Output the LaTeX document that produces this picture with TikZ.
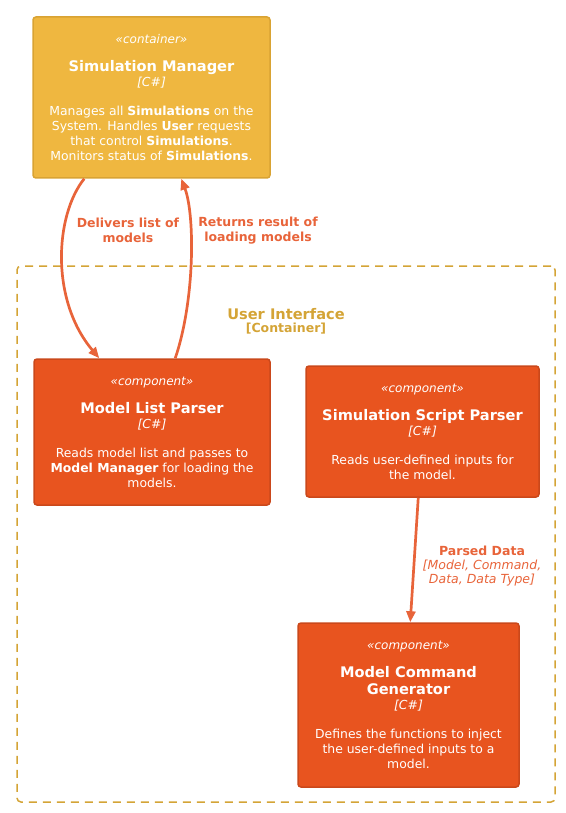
\documentclass[tikz,border=0pt]{standalone}
\usepackage{fontspec}
\setmainfont{DejaVu Sans}
\usetikzlibrary{positioning, arrows.meta, calc}

\definecolor{cntfill}{HTML}{EFB740}
\definecolor{cntline}{HTML}{D9A333}
\definecolor{cmpfill}{HTML}{E8541F}
\definecolor{cmpline}{HTML}{CA481B}
\definecolor{relcol}{HTML}{E8643A}
\definecolor{bndcol}{HTML}{D4A436}

\newcommand{\stereo}[1]{{\fontsize{12}{14}\selectfont\itshape «#1»}}
\newcommand{\techof}[1]{{\itshape [#1]}}
\newcommand{\ttl}[1]{{\fontsize{14.6}{17}\selectfont\bfseries #1}}

\begin{document}
\begin{tikzpicture}[x=1pt, y=-1pt, >=Triangle,
    box/.style={draw, rounded corners=3pt, line width=1.5pt, text=white,
                align=center, inner sep=0pt,
                font=\fontsize{12.4}{15}\selectfont},
    cont/.style={box, fill=cntfill, draw=cntline},
    comp/.style={box, fill=cmpfill, draw=cmpline},
    rel/.style={-{Triangle[length=11pt,width=9pt]}, draw=relcol, line width=2.7pt},
    rellabel/.style={text=relcol, align=center,
                     font=\fontsize{12.5}{15}\selectfont\bfseries}]
  \useasboundingbox (0,0) rectangle (565,813);

  % container boundary
  \node[draw=bndcol, line width=1.5pt, dash pattern=on 8pt off 6pt,
        rounded corners=4pt, minimum width=538pt, minimum height=536pt]
        (ui) at (286,534) {};
  \node[text=bndcol, align=center, font=\fontsize{12.5}{14}\selectfont\bfseries]
        (uilabel) at (286,321.5)
        {{\fontsize{14.6}{15}\selectfont User Interface}\\[-1pt][Container]};

  % elements
  \node[cont, minimum width=237pt, minimum height=161pt] (sm) at (151.5,97.5)
    {\stereo{container}\\[13pt]
     \ttl{Simulation Manager}\\
     \techof{C\#}\\[14pt]
     Manages all \textbf{Simulations} on the\\
     System. Handles \textbf{User} requests\\
     that control \textbf{Simulations}.\\
     Monitors status of \textbf{Simulations}.};
  \node[comp, minimum width=236pt, minimum height=146pt] (mlp) at (152,432)
    {\stereo{component}\\[13pt]
     \ttl{Model List Parser}\\
     \techof{C\#}\\[14pt]
     Reads model list and passes to\\
     \textbf{Model Manager} for loading the\\
     models.};
  \node[comp, minimum width=233pt, minimum height=131pt] (ssp) at (422.5,431.5)
    {\stereo{component}\\[13pt]
     \ttl{Simulation Script Parser}\\
     \techof{C\#}\\[14pt]
     Reads user-defined inputs for\\
     the model.};
  \node[comp, minimum width=221pt, minimum height=164pt] (mcg) at (408.5,705)
    {\stereo{component}\\[13pt]
     \ttl{Model Command}\\[2pt]
     \ttl{Generator}\\
     \techof{C\#}\\[14pt]
     Defines the functions to inject\\
     the user-defined inputs to a\\
     model.};

  % relations
  \draw[rel] ($(sm.south west)+(52,0)$) .. controls (55,215) and (50,300)
    .. ($(mlp.north west)+(66,0)$);
  \draw[rel] ($(mlp.north west)+(142,0)$) .. controls (195,300) and (195,215)
    .. ($(sm.south west)+(149,0)$);
  \draw[rel] ($(ssp.south west)+(113,0)$) -- ($(mcg.north west)+(113,0)$);

  \node[rellabel] (deliv) at (128,230.5) {Delivers list of\\models};
  \node[rellabel] (retn) at (258,230.5) {Returns result of\\loading models};
  \node[rellabel] (parsed) at (482,566)
    {Parsed Data\\[-1pt]
     {\mdseries\itshape [Model, Command,}\\[-1pt]
     {\mdseries\itshape Data, Data Type]}};
\end{tikzpicture}
\end{document}
